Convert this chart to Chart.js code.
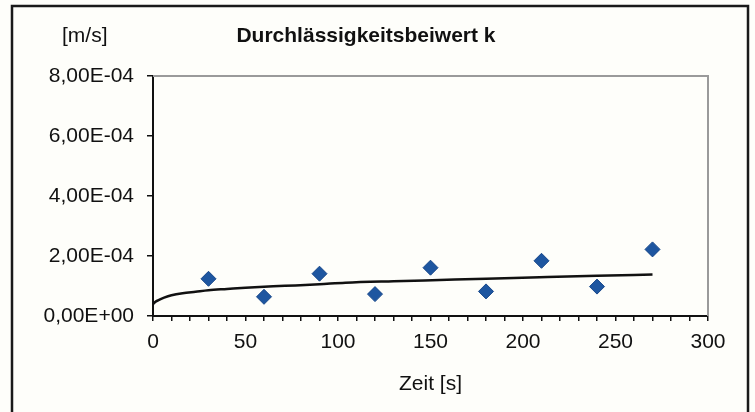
<!DOCTYPE html>
<html>
<head>
<meta charset="utf-8">
<script src="https://cdn.jsdelivr.net/npm/chart.js@4"></script>
<style>
  html, body { margin: 0; padding: 0; background: #fefefa; }
  #wrap { width: 755px; height: 412px; position: relative; }
</style>
</head>
<body>
<div id="wrap"><canvas id="c" width="755" height="412"></canvas></div>
<script>
// Measured points (Zeit [s], k [m/s])
const timeMeasured = [30, 60, 90, 120, 150, 180, 210, 240, 270];
const kMeasured = [1.24e-4, 0.64e-4, 1.41e-4, 0.73e-4, 1.61e-4, 0.82e-4, 1.84e-4, 0.98e-4, 2.22e-4];

// Trend curve
const timeTrend = [0, 1, 3, 6, 10, 16, 23, 30, 40, 50, 65, 77, 90, 104, 130, 155, 180, 209, 240, 270];
const kTrend = [0.39e-4, 0.46e-4, 0.53e-4, 0.61e-4, 0.69e-4, 0.76e-4, 0.81e-4, 0.86e-4, 0.90e-4, 0.94e-4, 0.99e-4, 1.02e-4, 1.06e-4, 1.11e-4, 1.16e-4, 1.20e-4, 1.24e-4, 1.29e-4, 1.34e-4, 1.38e-4];

const xTicksMajor = [0, 50, 100, 150, 200, 250, 300];
const yTicks = [0, 2e-4, 4e-4, 6e-4, 8e-4];

const titleText = 'Durchlässigkeitsbeiwert k';
const yUnitText = '[m/s]';
const xTitleText = 'Zeit [s]';

function fmtExp(v) {
  if (Math.abs(v) < 1e-12) return '0,00E+00';
  const s = v.toExponential(2); // e.g. 8.00e-4
  const [m, e] = s.split('e');
  const sign = e[0] === '-' ? '-' : '+';
  const ex = Math.abs(parseInt(e, 10)).toString().padStart(2, '0');
  return m.replace('.', ',') + 'E' + sign + ex;
}

const FONT = "'Liberation Sans', Arial, Helvetica, sans-serif";

const decor = {
  id: 'decor',
  beforeDraw(chart) {
    const ctx = chart.ctx;
    ctx.save();
    ctx.fillStyle = '#fefefa';
    ctx.fillRect(0, 0, chart.width, chart.height);
    ctx.restore();
  },
  afterDraw(chart) {
    const ctx = chart.ctx;
    const a = chart.chartArea;
    ctx.save();
    // outer frame
    ctx.strokeStyle = '#1a1a1a';
    ctx.lineWidth = 2.5;
    ctx.strokeRect(12, 6, 736, 430);
    // top and right plot border (gray)
    ctx.strokeStyle = '#9a9a9a';
    ctx.lineWidth = 2;
    ctx.beginPath();
    ctx.moveTo(a.left, a.top);
    ctx.lineTo(a.right, a.top);
    ctx.lineTo(a.right, a.bottom);
    ctx.stroke();
    // texts
    ctx.fillStyle = '#111';
    ctx.textBaseline = 'alphabetic';
    ctx.font = 'bold 21px ' + FONT;
    ctx.textAlign = 'center';
    ctx.fillText(titleText, 366, 42);
    ctx.font = '21px ' + FONT;
    ctx.textAlign = 'left';
    ctx.fillText(yUnitText, 62, 42);
    ctx.textAlign = 'center';
    ctx.fillText(xTitleText, (a.left + a.right) / 2, 390);
    ctx.restore();
  }
};

new Chart(document.getElementById('c'), {
  type: 'scatter',
  data: {
    datasets: [
      {
        label: 'Trend',
        type: 'line',
        data: timeTrend.map((t, i) => ({ x: t, y: kTrend[i] })),
        borderColor: '#111',
        borderWidth: 2.5,
        pointRadius: 0,
        tension: 0.4,
        cubicInterpolationMode: 'monotone',
        fill: false,
        order: 2
      },
      {
        label: 'k',
        data: timeMeasured.map((t, i) => ({ x: t, y: kMeasured[i] })),
        pointStyle: 'rectRot',
        pointRadius: 7.5,
        pointHoverRadius: 7.5,
        backgroundColor: '#1e56a0',
        borderColor: '#17478a',
        borderWidth: 1,
        order: 1
      }
    ]
  },
  options: {
    responsive: false,
    animation: false,
    devicePixelRatio: 1,
    layout: { padding: { left: 0, top: 76, right: 47, bottom: 0 } },
    plugins: {
      legend: { display: false },
      tooltip: { enabled: false },
      title: { display: false }
    },
    scales: {
      x: {
        type: 'linear',
        min: 0,
        max: 300,
        afterFit(s) { s.height = 96; },
        afterBuildTicks(s) {
          const t = [];
          for (let v = 0; v <= 300; v += 10) t.push({ value: v });
          s.ticks = t;
        },
        ticks: {
          autoSkip: false,
          maxRotation: 0,
          padding: 9,
          color: '#111',
          font: { family: FONT, size: 21 },
          callback: (v) => (xTicksMajor.includes(v) ? String(v) : '')
        },
        grid: { drawOnChartArea: false, tickLength: 5, color: '#111', lineWidth: 1.5 },
        border: { color: '#111', width: 2 }
      },
      y: {
        type: 'linear',
        min: 0,
        max: 8e-4,
        afterFit(s) { s.width = 153; },
        afterBuildTicks(s) { s.ticks = yTicks.map(v => ({ value: v })); },
        ticks: {
          padding: 13,
          color: '#111',
          font: { family: FONT, size: 21 },
          callback: (v) => fmtExp(v)
        },
        grid: { drawOnChartArea: false, tickLength: 6, color: '#111', lineWidth: 1.5 },
        border: { color: '#111', width: 2 }
      }
    }
  },
  plugins: [decor]
});
</script>
</body>
</html>
